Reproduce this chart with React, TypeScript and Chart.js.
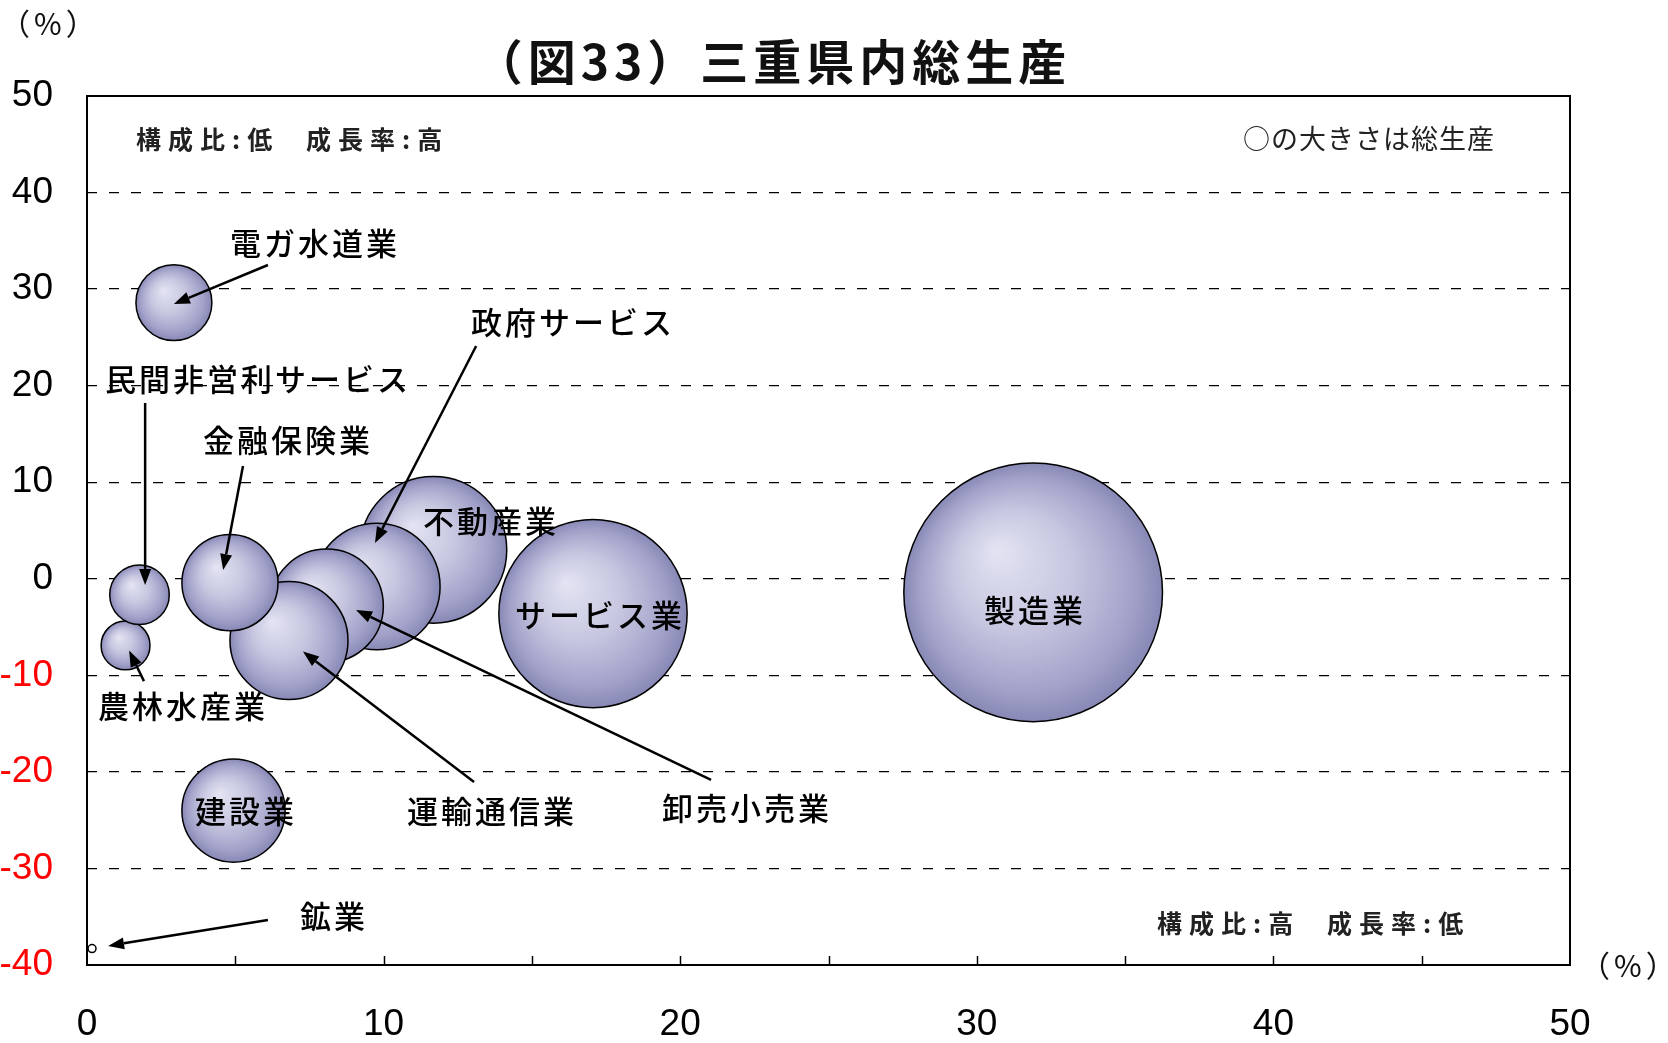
import React, { useEffect, useRef } from "react";
import { Chart, registerables } from "chart.js";

Chart.register(...registerables);

// ---- data ----
const industries = [
  "鉱業",
  "農林水産業",
  "民間非営利サービス",
  "電ガ水道業",
  "建設業",
  "製造業",
  "不動産業",
  "政府サービス",
  "卸売小売業",
  "運輸通信業",
  "金融保険業",
  "サービス業",
];
// x: 構成比 (%)
const shareValues = [0.17, 1.3, 1.77, 2.93, 4.94, 31.9, 11.68, 9.77, 8.08, 6.81, 4.82, 17.06];
// y: 成長率 (%)
const growthValues = [-38.3, -6.9, -1.65, 28.6, -24.0, -1.4, 3.0, -0.8, -2.8, -6.4, -0.4, -3.6];
// bubble size: 総生産 (relative)
const outputSizes = [0.03, 1.14, 1.69, 2.75, 5.08, 31.9, 10.25, 7.64, 6.13, 6.64, 4.4, 16.9];

const xMin = 0;
const xMax = 50;
const xStep = 10;
const xMinorStep = 5;
const yMin = -40;
const yMax = 50;
const yStep = 10;

const titleText = "（図33）三重県内総生産";
const unitText = "（%）";
const noteTopLeft = ["構成比:低", "成長率:高"];
const noteBottomRight = ["構成比:高", "成長率:低"];
const noteSize = "○の大きさは総生産";

// label annotations in axis units: text, x (left edge), y (middle)
const labelTexts = [
  "電ガ水道業",
  "民間非営利サービス",
  "金融保険業",
  "政府サービス",
  "不動産業",
  "サービス業",
  "製造業",
  "農林水産業",
  "建設業",
  "運輸通信業",
  "卸売小売業",
  "鉱業",
];
const labelX = [4.82, 0.61, 3.91, 12.95, 11.33, 14.43, 30.24, 0.37, 3.64, 10.79, 19.39, 7.18];
const labelY = [34.8, 20.7, 14.4, 26.6, 6.0, -3.75, -3.23, -13.17, -24.04, -24.04, -23.74, -34.92];

// arrows in axis units: from (x1,y1) to (x2,y2)
const arrowX1 = [6.1, 1.96, 5.26, 13.12, 13.05, 21.04, 1.92, 6.1];
const arrowY1 = [32.5, 18.21, 11.68, 24.11, -21.04, -20.82, -10.6, -35.33];
const arrowX2 = [2.93, 1.96, 4.59, 9.71, 7.28, 9.07, 1.42, 0.71];
const arrowY2 = [28.46, -0.64, 0.91, 3.71, -7.53, -3.23, -7.44, -38.02];

const RADIUS_SCALE = 22.9;
const JP = '"Noto Sans CJK JP", "Noto Sans", sans-serif';
const NUM = '"Liberation Sans", Arial, sans-serif';

function drawArrow(ctx: CanvasRenderingContext2D, x1: number, y1: number, x2: number, y2: number) {
  const ang = Math.atan2(y2 - y1, x2 - x1);
  const head = 16;
  const half = 6;
  const bx = x2 - head * Math.cos(ang);
  const by = y2 - head * Math.sin(ang);
  ctx.beginPath();
  ctx.moveTo(x1, y1);
  ctx.lineTo(bx, by);
  ctx.stroke();
  ctx.beginPath();
  ctx.moveTo(x2, y2);
  ctx.lineTo(bx + half * Math.sin(ang), by - half * Math.cos(ang));
  ctx.lineTo(bx - half * Math.sin(ang), by + half * Math.cos(ang));
  ctx.closePath();
  ctx.fill();
}

const overlayPlugin = {
  id: "overlay",
  afterDatasetsDraw(chart: any) {
    const ctx: CanvasRenderingContext2D = chart.ctx;
    const a = chart.chartArea;
    const xs = chart.scales.x;
    const ys = chart.scales.y;
    ctx.save();
    // frame
    ctx.setLineDash([]);
    ctx.strokeStyle = "#000";
    ctx.lineWidth = 2;
    ctx.strokeRect(a.left, a.top, a.right - a.left, a.bottom - a.top);
    // inner tick marks on x axis
    ctx.lineWidth = 1.5;
    for (let v = xMin + xMinorStep; v < xMax; v += xMinorStep) {
      const px = Math.round(xs.getPixelForValue(v)) + 0.5;
      ctx.beginPath();
      ctx.moveTo(px, a.bottom);
      ctx.lineTo(px, a.bottom - 9);
      ctx.stroke();
    }
    // arrows
    ctx.fillStyle = "#000";
    ctx.lineWidth = 2.5;
    for (let i = 0; i < arrowX1.length; i++) {
      drawArrow(
        ctx,
        xs.getPixelForValue(arrowX1[i]),
        ys.getPixelForValue(arrowY1[i]),
        xs.getPixelForValue(arrowX2[i]),
        ys.getPixelForValue(arrowY2[i])
      );
    }
    // labels
    ctx.font = `500 31px ${JP}`;
    (ctx as any).letterSpacing = "3px";
    ctx.textAlign = "left";
    ctx.textBaseline = "middle";
    ctx.fillStyle = "#000";
    for (let i = 0; i < labelTexts.length; i++) {
      ctx.fillText(labelTexts[i], xs.getPixelForValue(labelX[i]), ys.getPixelForValue(labelY[i]));
    }
    // notes
    ctx.font = `bold 25px ${JP}`;
    (ctx as any).letterSpacing = "7px";
    ctx.fillStyle = "#222";
    ctx.fillText(noteTopLeft[0], 136, 139);
    ctx.fillText(noteTopLeft[1], 306, 139);
    ctx.fillText(noteBottomRight[0], 1157, 923);
    ctx.fillText(noteBottomRight[1], 1327, 923);
    ctx.font = `27px ${JP}`;
    (ctx as any).letterSpacing = "1px";
    ctx.fillText(noteSize, 1243, 139);
    ctx.restore();
  },
  afterDraw(chart: any) {
    const ctx: CanvasRenderingContext2D = chart.ctx;
    ctx.save();
    ctx.fillStyle = "#111";
    ctx.textBaseline = "middle";
    ctx.textAlign = "center";
    ctx.font = `bold 48px ${JP}`;
    (ctx as any).letterSpacing = "5px";
    ctx.fillText(titleText, 773, 62);
    ctx.font = `30px ${JP}`;
    (ctx as any).letterSpacing = "4px";
    ctx.textAlign = "left";
    ctx.fillText(unitText, 0, 24);
    ctx.fillText(unitText, 1580, 966);
    ctx.restore();
  },
};

function bubbleFill(c: any) {
  const fallback = "#b8b8d8";
  if (c.type !== "data" || !c.raw) return fallback;
  const chart = c.chart;
  const xs = chart.scales && chart.scales.x;
  const ys = chart.scales && chart.scales.y;
  if (!xs || !ys) return fallback;
  const r = c.raw.r;
  if (!Number.isFinite(r)) return fallback;
  if (r < 6) return "#ffffff";
  const cx = xs.getPixelForValue(c.raw.x);
  const cy = ys.getPixelForValue(c.raw.y);
  if (!Number.isFinite(cx) || !Number.isFinite(cy)) return fallback;
  const g = chart.ctx.createRadialGradient(cx - r * 0.28, cy - r * 0.32, r * 0.03, cx, cy, r);
  g.addColorStop(0, "#e2e2f2");
  g.addColorStop(0.45, "#c6c6e0");
  g.addColorStop(0.8, "#a4a4cb");
  g.addColorStop(1, "#8888b6");
  return g;
}

export default function App() {
  const canvasRef = useRef<HTMLCanvasElement | null>(null);

  useEffect(() => {
    if (!canvasRef.current) return;
    const points = industries.map((_, i) => ({
      x: shareValues[i],
      y: growthValues[i],
      r: RADIUS_SCALE * Math.sqrt(outputSizes[i]),
    }));
    const chart = new Chart(canvasRef.current, {
      type: "bubble",
      data: {
        labels: industries,
        datasets: [
          {
            label: "三重県内総生産",
            data: points,
            backgroundColor: bubbleFill as any,
            borderColor: "#000",
            borderWidth: 1.5,
            clip: false as any,
          },
        ],
      },
      options: {
        responsive: false,
        maintainAspectRatio: false,
        animation: false,
        events: [],
        layout: { autoPadding: false, padding: { top: 96, right: 98, left: 0, bottom: 0 } },
        plugins: {
          legend: { display: false },
          tooltip: { enabled: false },
          title: { display: false },
        },
        scales: {
          x: {
            type: "linear",
            min: xMin,
            max: xMax,
            afterFit: (s: any) => {
              s.height = 78;
            },
            grid: { display: false, drawTicks: false },
            border: { display: false },
            ticks: {
              stepSize: xStep,
              padding: 38,
              color: "#000",
              font: { family: NUM, size: 37 },
            },
          },
          y: {
            type: "linear",
            min: yMin,
            max: yMax,
            afterFit: (s: any) => {
              s.width = 87;
            },
            grid: {
              display: true,
              drawTicks: false,
              color: "#000",
              lineWidth: 1.3,
            },
            border: { display: false, dash: [10, 12] },
            ticks: {
              stepSize: yStep,
              padding: 34,
              color: (c: any) => (c.tick && c.tick.value < 0 ? "#ff0000" : "#000000"),
              font: { family: NUM, size: 37 },
            },
          },
        },
      },
      plugins: [overlayPlugin],
    });
    return () => chart.destroy();
  }, []);

  return (
    <div style={{ position: "absolute", left: 0, top: 0, width: 1668, height: 1043, background: "#fff" }}>
      <canvas ref={canvasRef} width={1668} height={1043} style={{ display: "block", width: 1668, height: 1043 }} />
    </div>
  );
}
